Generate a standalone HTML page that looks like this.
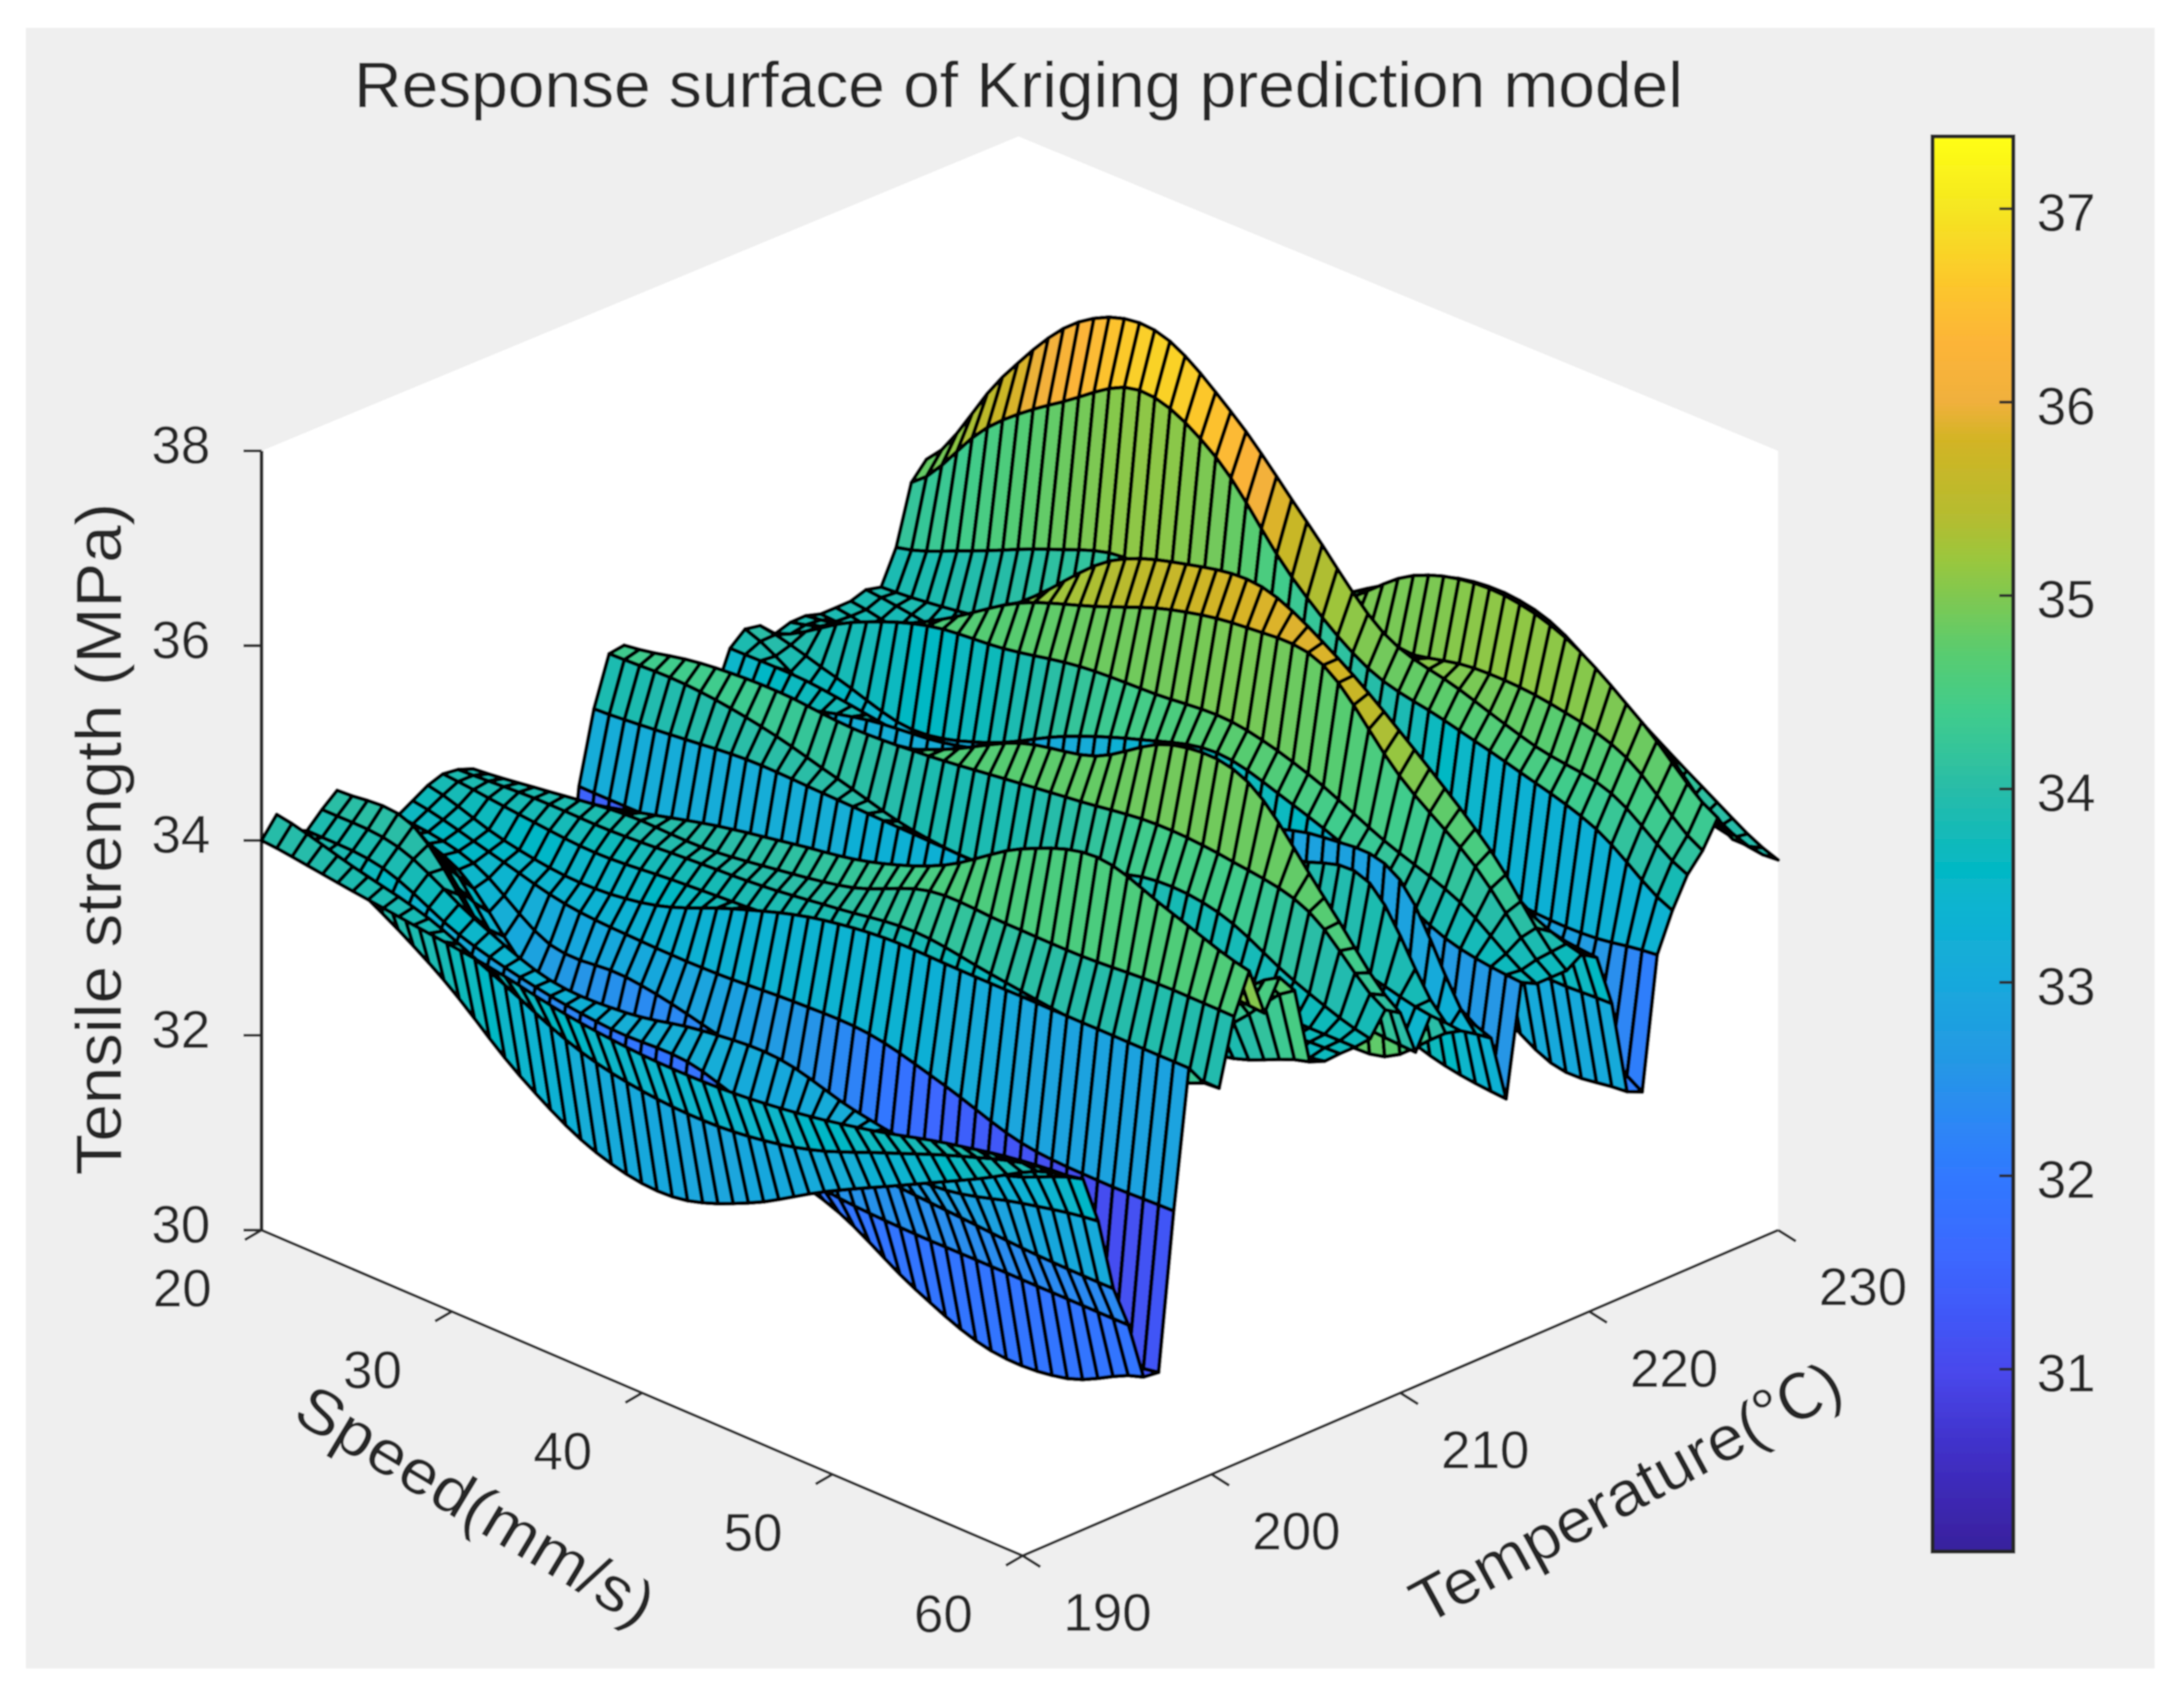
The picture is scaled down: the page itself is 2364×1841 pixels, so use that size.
<!DOCTYPE html>
<html lang="en">
<head>
<meta charset="utf-8">
<title>Response surface of Kriging prediction model</title>
<style>
html,body{margin:0;padding:0;background:#fff}
svg{display:block}
text{font-family:"Liberation Sans","Noto Sans CJK SC",sans-serif;fill:#262626}
</style>
</head>
<body>
<svg id="chart" xmlns="http://www.w3.org/2000/svg" width="2364" height="1841" viewBox="0 0 1569.7 1222.4">
  <defs>
    <filter id="soft" x="-2%" y="-2%" width="104%" height="104%"><feGaussianBlur stdDeviation="0.6"/></filter>
    <linearGradient id="cbar-gradient" x1="0" y1="1" x2="0" y2="0"></linearGradient>
  </defs>
  <g filter="url(#soft)">
    <rect x="18.6" y="20" width="1530" height="1179" fill="#efefef"/>
    <polygon points="188,324 732,98 1278,324 1278,884 735,1118 188,884" fill="#ffffff"/>
    <text x="732" y="77" font-size="46" text-anchor="middle" textLength="955" lengthAdjust="spacingAndGlyphs">Response surface of Kriging prediction model</text>
    <g id="axes"></g>
    <g id="surface" stroke="#020606" stroke-width="2.8" stroke-linejoin="round"></g>
    <text transform="translate(87,603) rotate(-90)" font-size="46" text-anchor="middle" textLength="483" lengthAdjust="spacingAndGlyphs">Tensile strength (MPa)</text>
    <text transform="translate(334,1095) rotate(31)" font-size="45" text-anchor="middle" textLength="292" lengthAdjust="spacingAndGlyphs">Speed(mm/s)</text>
    <text transform="translate(1176,1086) rotate(-28.5)" font-size="45" text-anchor="middle" textLength="345" lengthAdjust="spacingAndGlyphs">Temperature(℃)</text>
    <g id="colorbar"></g>
  </g>
</svg>
<script>
const speedTicks = [20, 30, 40, 50, 60];
const temperatureTicks = [190, 200, 210, 220, 230];
const strengthTicks = [30, 32, 34, 36, 38];
const colorbarTicks = [31, 32, 33, 34, 35, 36, 37];
const colorLimits = [30.07, 37.37];
const speedKnots = [20, 24, 28, 32, 36, 40, 44, 48, 52, 56, 60];
const speedSamples = [20,20.8,21.6,22.4,23.2,24,24.8,25.6,26.4,27.2,28,28.8,29.6,30.4,31.2,32,32.8,33.6,34.4,35.2,36,36.8,37.6,38.4,39.2,40,40.8,41.6,42.4,43.2,44,44.8,45.6,46.4,47.2,48,48.8,49.6,50.4,51.2,52,52.8,53.6,54.4,55.2,56,56.8,57.6,58.4,59.2,60];
const temperatureRows = [190,190.8,191.6,192.4,193.2,194,194.8,195.6,196.4,197.2,198,198.8,199.6,200.4,201.2,202,202.8,203.6,204.4,205.2,206,206.8,207.6,208.4,209.2,210,210.8,211.6,212.4,213.2,214,214.8,215.6,216.4,217.2,218,218.8,219.6,220.4,221.2,222,222.8,223.6,224.4,225.2,226,226.8,227.6,228.4,229.2,230];
const strengthRows = [
[34.00,33.90,33.80,33.70,33.55,33.47,33.47,33.55,33.70,33.90,34.04],
[34.20,34.00,33.80,33.45,33.10,32.95,32.95,33.10,33.40,33.70,33.93],
[33.97,33.60,33.10,32.45,32.00,31.88,32.15,32.60,33.00,33.40,33.80],
[33.90,33.85,33.50,33.30,33.20,33.20,33.00,33.20,33.40,33.60,33.70],
[34.05,34.00,33.60,33.30,33.30,33.45,33.50,33.30,33.20,33.30,33.60],
[34.18,34.15,33.30,32.95,32.85,32.90,32.95,32.75,32.75,32.95,33.10],
[33.90,33.90,33.00,32.75,32.60,32.50,32.50,32.45,32.40,32.35,32.34],
[33.80,33.70,32.80,32.55,32.40,32.10,31.95,31.90,31.90,31.90,31.90],
[33.70,33.50,32.70,32.40,32.25,31.90,31.65,31.20,30.90,30.95,31.30],
[33.65,33.50,33.00,33.00,32.85,32.60,32.10,31.50,31.20,31.10,31.28],
[33.74,33.55,33.35,33.30,33.30,33.35,33.35,33.15,32.90,32.85,32.87],
[33.83,33.60,33.50,33.60,33.90,34.15,34.27,34.27,34.27,34.27,34.27],
[33.88,33.80,33.74,33.80,33.85,33.90,33.80,33.65,33.60,33.60,34.05],
[33.86,33.90,33.90,33.95,34.00,34.10,34.20,34.10,34.00,33.95,33.93],
[33.80,33.90,34.00,34.00,34.10,34.25,34.55,34.55,34.55,34.60,34.60],
[33.60,33.75,33.95,34.15,34.30,34.45,34.75,35.25,35.50,35.25,35.00],
[33.40,33.50,33.60,33.80,34.00,34.20,34.50,34.80,34.90,34.60,34.50],
[32.90,33.00,33.10,33.30,33.60,33.90,34.30,34.60,34.30,34.20,34.80],
[32.40,32.50,32.70,32.90,33.10,33.40,33.80,34.30,34.00,33.90,34.60],
[32.00,32.10,32.20,32.50,32.70,33.00,33.20,33.40,33.40,33.50,33.80],
[31.50,31.60,31.70,32.00,32.30,32.60,32.90,33.10,33.30,33.50,33.74],
[33.15,33.15,33.15,33.20,33.25,33.30,33.40,33.50,33.60,33.70,33.75],
[33.88,33.95,34.03,34.02,34.00,33.98,33.90,33.85,33.80,33.75,33.75],
[34.38,34.40,34.30,34.10,33.90,33.87,34.10,34.43,34.40,34.03,33.77],
[34.40,34.55,34.60,34.55,34.60,34.70,34.80,34.90,34.85,34.67,34.00],
[33.90,34.00,34.10,34.30,34.60,35.00,35.20,35.65,35.60,34.75,33.90],
[33.20,33.30,33.50,33.60,33.80,34.00,34.10,33.90,33.70,33.50,33.43],
[33.00,33.20,33.30,33.40,33.50,33.60,33.70,33.80,33.90,33.90,33.74],
[33.20,33.40,33.60,33.80,34.00,34.20,34.30,34.40,34.60,34.70,33.60],
[33.00,33.20,33.20,33.10,33.00,33.00,32.90,32.90,32.85,32.85,33.45],
[33.50,33.70,33.90,34.00,34.20,34.30,34.40,34.50,34.70,34.60,33.35],
[33.90,33.90,33.80,33.70,33.60,33.70,33.90,34.10,34.20,33.70,33.24],
[34.03,33.60,33.20,33.05,33.10,33.40,33.70,33.60,33.00,32.66,32.55],
[34.00,33.80,33.60,33.80,34.20,34.50,34.70,34.50,34.20,33.80,33.68],
[33.85,34.30,34.60,34.70,34.85,34.90,34.95,34.75,34.40,34.10,33.60],
[33.90,34.20,34.60,35.10,35.40,35.70,35.85,35.80,35.00,34.40,33.60],
[33.90,34.10,34.50,35.10,35.80,36.10,36.20,35.80,35.20,34.50,33.60],
[33.85,33.80,33.80,34.00,34.20,34.40,34.40,34.30,34.30,34.00,33.70],
[33.85,33.70,33.60,33.50,33.60,33.80,33.90,33.90,33.90,33.70,33.60],
[33.85,33.70,33.60,33.50,33.60,33.70,33.70,33.60,33.30,33.05,33.06],
[33.90,33.80,33.70,33.60,33.70,33.80,33.70,33.40,32.60,32.05,32.09],
[33.86,33.95,34.10,34.20,34.30,34.30,34.20,33.20,33.00,32.70,32.02],
[34.20,34.50,34.85,35.10,34.90,34.30,34.00,33.60,33.30,33.25,33.36],
[34.80,35.70,36.30,36.75,36.40,35.50,34.90,34.70,34.50,34.25,33.75],
[34.97,36.15,37.05,37.30,36.80,36.00,35.20,34.95,34.70,34.55,34.05],
[33.80,34.30,34.70,35.00,35.10,35.00,34.95,35.10,35.07,34.85,34.23],
[33.50,34.00,34.50,34.80,34.70,35.05,35.65,35.85,35.68,35.15,34.50],
[33.30,33.70,34.10,34.50,34.60,34.90,35.30,35.40,35.30,34.90,34.21],
[33.20,33.60,33.90,34.30,34.50,34.80,35.10,35.10,34.90,34.50,34.08],
[33.20,33.50,33.80,34.20,34.50,35.00,35.20,35.00,34.60,34.10,33.92],
[33.00,33.30,33.60,33.90,34.30,35.00,35.32,35.25,34.72,34.22,33.80]
];
const paletteLevels = [30.07,30.6,31,31.3,31.6,32,32.3,32.6,33,33.4,33.6,34,34.4,34.7,35,35.2,35.4,35.8,36,36.3,36.6,37,37.37];
const paletteColors = ['#38209c','#4030c8','#4848ec','#4058f8','#3c68ff','#3078ff','#2c88f4','#2498e4','#18a8dc','#0cb4d0','#04b8c4','#28bca8','#40cc8c','#58cc70','#80c850','#9cc63c','#b4bc30','#d2b424','#f0b03c','#fcb438','#fcc62c','#f5e621','#ffff14'];

const NS = 'http://www.w3.org/2000/svg';
const box = {ox:188, oy:884, sx:547, sy:234, tx:543, ty:-234, zy:-70};

function fx(s){ return (s - 20) / 40; }
function ft(t){ return (t - 190) / 40; }
function project(s, t, z){
  return [box.ox + fx(s) * box.sx + ft(t) * box.tx,
          box.oy + fx(s) * box.sy + ft(t) * box.ty + (z - 30) * box.zy];
}
function hexToRgb(h){ return [parseInt(h.slice(1,3),16), parseInt(h.slice(3,5),16), parseInt(h.slice(5,7),16)]; }
function colorFor(z){
  const n = paletteLevels.length;
  if (z <= paletteLevels[0]) return paletteColors[0];
  if (z >= paletteLevels[n-1]) return paletteColors[n-1];
  let k = 0;
  while (paletteLevels[k+1] < z) k++;
  const f = (z - paletteLevels[k]) / (paletteLevels[k+1] - paletteLevels[k]);
  const a = hexToRgb(paletteColors[k]), b = hexToRgb(paletteColors[k+1]);
  return 'rgb(' + a.map((v,i) => Math.round(v + (b[i]-v)*f)).join(',') + ')';
}
function smoothAlongSpeed(row, s){
  const last = speedKnots.length - 1;
  let k = 0;
  while (k < last - 1 && speedKnots[k+1] <= s) k++;
  const f = (s - speedKnots[k]) / (speedKnots[k+1] - speedKnots[k]);
  const p0 = row[Math.max(k-1,0)], p1 = row[k], p2 = row[k+1], p3 = row[Math.min(k+2,last)];
  return 0.5*((2*p1) + (p2-p0)*f + (2*p0-5*p1+4*p2-p3)*f*f + (3*p1-p0-3*p2+p3)*f*f*f);
}
function add(parent, tag, attrs){
  const el = document.createElementNS(NS, tag);
  for (const k in attrs) el.setAttribute(k, attrs[k]);
  parent.appendChild(el);
  return el;
}

/* surface mesh, drawn far to near */
const surface = document.getElementById('surface');
const grid = strengthRows.map(row => speedSamples.map(s => smoothAlongSpeed(row, s)));
for (let i = temperatureRows.length - 2; i >= 0; i--) {
  for (let j = 0; j < speedSamples.length - 1; j++) {
    const a = project(speedSamples[j], temperatureRows[i], grid[i][j]);
    const b = project(speedSamples[j+1], temperatureRows[i], grid[i][j+1]);
    const c = project(speedSamples[j+1], temperatureRows[i+1], grid[i+1][j+1]);
    const d = project(speedSamples[j], temperatureRows[i+1], grid[i+1][j]);
    const poly = add(surface, 'polygon', {points: [a,b,c,d].map(p => p[0].toFixed(1) + ',' + p[1].toFixed(1)).join(' '), fill: colorFor(grid[i][j])});
    
    
  }
}

/* axes */
const axes = document.getElementById('axes');
const AXIS = '#2b2b2b';
function line(parent, p, q, w, name){
  const el = add(parent, 'line', {x1:p[0], y1:p[1], x2:q[0], y2:q[1], stroke:AXIS, 'stroke-width':w});
  
  
  return el;
}
function label(parent, x, y, str, name){
  const el = add(parent, 'text', {x:x, y:y, 'font-size':38, 'text-anchor':'middle'});
  el.textContent = str;
  
  
  return el;
}
line(axes, project(20,190,30), project(20,190,38), 2.6, 'strength-axis-line');
line(axes, project(20,190,30), project(60,190,30), 2, 'speed-axis-line');
line(axes, project(60,190,30), project(60,230,30), 2, 'temperature-axis-line');
strengthTicks.forEach(v => {
  const p = project(20,190,v);
  line(axes, [p[0]-13,p[1]], p, 2, 'strength-tick');
  label(axes, 130, p[1]+9, String(v), 'strength-tick-label');
});
speedTicks.forEach(v => {
  const p = project(v,190,30);
  line(axes, p, [p[0]-12,p[1]+7], 2, 'speed-tick');
  label(axes, p[0]-57, p[1]+55, String(v), 'speed-tick-label');
});
temperatureTicks.forEach(v => {
  const p = project(60,v,30);
  line(axes, p, [p[0]+12.7,p[1]+8], 2, 'temperature-tick');
  label(axes, p[0]+61, p[1]+54, String(v), 'temperature-tick-label');
});

/* colorbar */
const cb = {x:1389, y:98, w:58, h:1017};
function cbY(v){ return 150 + (37 - v) * 139; }
const grad = document.getElementById('cbar-gradient');
paletteLevels.forEach((lv, i) => {
  add(grad, 'stop', {offset: (lv - colorLimits[0]) / (colorLimits[1] - colorLimits[0]), 'stop-color': paletteColors[i]});
});
const colorbar = document.getElementById('colorbar');
const cbRect = add(colorbar, 'rect', {x:cb.x, y:cb.y, width:cb.w, height:cb.h, fill:'url(#cbar-gradient)', stroke:'#262626', 'stroke-width':2.8});


colorbarTicks.forEach(v => {
  line(colorbar, [cb.x+cb.w-10, cbY(v)], [cb.x+cb.w, cbY(v)], 2, 'colorbar-tick');
  label(colorbar, 1485, cbY(v)+16, String(v), 'colorbar-tick-label');
});
</script>
</body>
</html>
